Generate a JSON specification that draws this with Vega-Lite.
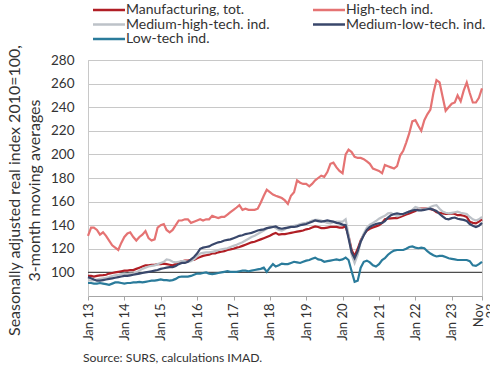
{
"$schema": "https://vega.github.io/schema/vega-lite/v6.json",
"width": 394, "height": 236,
"autosize": {"type": "none"},
"padding": {"left": 88, "top": 60, "right": 8, "bottom": 71},
"config": {"font": "Lato", "view": {"stroke": "#C8C8C8", "strokeWidth": 1}},
"title": {"text": "Source: SURS, calculations IMAD.", "orient": "bottom", "anchor": "start", "frame": "group", "dx": -5, "offset": 12, "fontSize": 12.2, "fontWeight": "normal", "color": "#333333"},
"data": {"values": [
{"d":"2013-01-01","a":97,"b":131,"c":93.5,"e":96,"f":91},
{"d":"2013-02-01","a":97,"b":138,"c":93,"e":95,"f":91},
{"d":"2013-03-01","a":96.5,"b":138,"c":93.5,"e":94,"f":90.5},
{"d":"2013-04-01","a":97,"b":136,"c":94,"e":93,"f":90.5},
{"d":"2013-05-01","a":97.5,"b":132,"c":94.5,"e":93,"f":91},
{"d":"2013-06-01","a":97.7,"b":134,"c":95,"e":93.5,"f":90.5},
{"d":"2013-07-01","a":98,"b":131,"c":95.5,"e":94,"f":90},
{"d":"2013-08-01","a":99,"b":127,"c":96,"e":94.5,"f":89.5},
{"d":"2013-09-01","a":99.5,"b":123,"c":97,"e":95,"f":90.5},
{"d":"2013-10-01","a":100,"b":121,"c":97.5,"e":95.5,"f":91.5},
{"d":"2013-11-01","a":100.5,"b":119,"c":98,"e":96,"f":91.5},
{"d":"2013-12-01","a":101,"b":125,"c":98.5,"e":96.5,"f":91},
{"d":"2014-01-01","a":101.5,"b":130,"c":99,"e":97,"f":90.5},
{"d":"2014-02-01","a":101.5,"b":133,"c":98.5,"e":97,"f":91},
{"d":"2014-03-01","a":102,"b":134,"c":99,"e":97.5,"f":91},
{"d":"2014-04-01","a":102,"b":130,"c":99,"e":98,"f":91.5},
{"d":"2014-05-01","a":103,"b":127,"c":100,"e":98.5,"f":91.5},
{"d":"2014-06-01","a":104,"b":130,"c":101.5,"e":99,"f":92},
{"d":"2014-07-01","a":105,"b":132,"c":103,"e":99.5,"f":91.5},
{"d":"2014-08-01","a":106,"b":135,"c":104,"e":100,"f":92},
{"d":"2014-09-01","a":106,"b":129,"c":105,"e":100.5,"f":92.5},
{"d":"2014-10-01","a":106.5,"b":127,"c":105.5,"e":101,"f":93},
{"d":"2014-11-01","a":106.5,"b":128,"c":106,"e":101.5,"f":93},
{"d":"2014-12-01","a":107,"b":138,"c":107,"e":102,"f":93.5},
{"d":"2015-01-01","a":107,"b":140,"c":108,"e":103,"f":94},
{"d":"2015-02-01","a":107.5,"b":141,"c":109,"e":103.5,"f":93.5},
{"d":"2015-03-01","a":107,"b":136,"c":111,"e":104,"f":93.5},
{"d":"2015-04-01","a":106.5,"b":134,"c":110.5,"e":104.5,"f":93},
{"d":"2015-05-01","a":106,"b":136,"c":109,"e":104.5,"f":93.5},
{"d":"2015-06-01","a":107,"b":140,"c":108.5,"e":105.5,"f":94.5},
{"d":"2015-07-01","a":108.5,"b":144,"c":109,"e":107,"f":96},
{"d":"2015-08-01","a":109.5,"b":144,"c":109.5,"e":108,"f":96.5},
{"d":"2015-09-01","a":110,"b":145,"c":109.5,"e":108,"f":96.5},
{"d":"2015-10-01","a":110,"b":145,"c":109,"e":109,"f":96.5},
{"d":"2015-11-01","a":110.5,"b":142,"c":109.5,"e":111,"f":97},
{"d":"2015-12-01","a":110.5,"b":143,"c":111,"e":113,"f":98},
{"d":"2016-01-01","a":112,"b":144,"c":113.5,"e":116,"f":99},
{"d":"2016-02-01","a":113,"b":145,"c":116,"e":120,"f":99},
{"d":"2016-03-01","a":114,"b":144,"c":116.5,"e":121,"f":99.5},
{"d":"2016-04-01","a":114.5,"b":145,"c":117,"e":121.5,"f":100},
{"d":"2016-05-01","a":115,"b":145,"c":117,"e":122,"f":99},
{"d":"2016-06-01","a":116,"b":148,"c":117.5,"e":123.5,"f":98.5},
{"d":"2016-07-01","a":116,"b":147,"c":118,"e":124.5,"f":99},
{"d":"2016-08-01","a":117,"b":146,"c":119,"e":125.5,"f":99.5},
{"d":"2016-09-01","a":117.5,"b":147,"c":119.5,"e":126,"f":100},
{"d":"2016-10-01","a":118,"b":147,"c":120,"e":127,"f":100.5},
{"d":"2016-11-01","a":119,"b":149,"c":120.5,"e":127.5,"f":101},
{"d":"2016-12-01","a":119.5,"b":151,"c":121.5,"e":128,"f":100.5},
{"d":"2017-01-01","a":120,"b":153,"c":122.5,"e":129,"f":100.5},
{"d":"2017-02-01","a":121,"b":155,"c":123.5,"e":130,"f":100.5},
{"d":"2017-03-01","a":121.5,"b":157,"c":124.5,"e":131,"f":101},
{"d":"2017-04-01","a":122.5,"b":153,"c":125.5,"e":131.5,"f":101.5},
{"d":"2017-05-01","a":123.5,"b":154,"c":127,"e":132.5,"f":101.5},
{"d":"2017-06-01","a":124.5,"b":153,"c":128.5,"e":133,"f":101},
{"d":"2017-07-01","a":125.5,"b":153,"c":130,"e":133.5,"f":101.5},
{"d":"2017-08-01","a":126,"b":153,"c":131,"e":134.5,"f":102},
{"d":"2017-09-01","a":127,"b":154,"c":132.5,"e":135.5,"f":102.5},
{"d":"2017-10-01","a":128,"b":159,"c":134,"e":136,"f":103},
{"d":"2017-11-01","a":129,"b":165,"c":135.5,"e":136.5,"f":104},
{"d":"2017-12-01","a":130,"b":170,"c":137,"e":137.5,"f":100.5},
{"d":"2018-01-01","a":131,"b":168,"c":138.5,"e":138,"f":104},
{"d":"2018-02-01","a":132.5,"b":166,"c":139,"e":138.5,"f":107},
{"d":"2018-03-01","a":133.5,"b":165,"c":137.5,"e":139,"f":105},
{"d":"2018-04-01","a":132,"b":164,"c":136,"e":137.5,"f":106},
{"d":"2018-05-01","a":132.5,"b":163,"c":135.5,"e":137,"f":107.5},
{"d":"2018-06-01","a":132.5,"b":161,"c":136.5,"e":137.5,"f":107},
{"d":"2018-07-01","a":133,"b":158,"c":138,"e":138,"f":107},
{"d":"2018-08-01","a":133.5,"b":165,"c":138.5,"e":138.5,"f":108},
{"d":"2018-09-01","a":134,"b":168,"c":139.5,"e":138.5,"f":109},
{"d":"2018-10-01","a":134.5,"b":178,"c":140,"e":139,"f":108.5},
{"d":"2018-11-01","a":135,"b":176,"c":141,"e":140,"f":108},
{"d":"2018-12-01","a":135.5,"b":175,"c":141.5,"e":140.5,"f":109},
{"d":"2019-01-01","a":136.5,"b":175,"c":142,"e":141,"f":110},
{"d":"2019-02-01","a":137,"b":173,"c":143,"e":142,"f":110.5},
{"d":"2019-03-01","a":138,"b":175,"c":144,"e":143,"f":111.5},
{"d":"2019-04-01","a":139,"b":178,"c":144.5,"e":144,"f":112.5},
{"d":"2019-05-01","a":138.5,"b":180,"c":144.5,"e":143.5,"f":111},
{"d":"2019-06-01","a":137.5,"b":182,"c":144,"e":143,"f":110.5},
{"d":"2019-07-01","a":137.5,"b":181,"c":143,"e":143.5,"f":109},
{"d":"2019-08-01","a":138,"b":185,"c":142,"e":144,"f":109.5},
{"d":"2019-09-01","a":138.5,"b":192,"c":141.5,"e":143.5,"f":110},
{"d":"2019-10-01","a":138.5,"b":193,"c":142.5,"e":143,"f":110.5},
{"d":"2019-11-01","a":138.5,"b":189,"c":143,"e":142,"f":111},
{"d":"2019-12-01","a":138,"b":186,"c":143,"e":141.5,"f":110.5},
{"d":"2020-01-01","a":138,"b":184,"c":143,"e":140.5,"f":111},
{"d":"2020-02-01","a":139,"b":200,"c":145,"e":140,"f":112.5},
{"d":"2020-03-01","a":131,"b":204,"c":132,"e":129,"f":110.5},
{"d":"2020-04-01","a":119,"b":202,"c":115,"e":117,"f":101},
{"d":"2020-05-01","a":114,"b":198,"c":108,"e":112,"f":92},
{"d":"2020-06-01","a":120,"b":197,"c":115,"e":118,"f":93},
{"d":"2020-07-01","a":127,"b":197,"c":126,"e":126,"f":104},
{"d":"2020-08-01","a":132,"b":196,"c":133,"e":131.5,"f":109},
{"d":"2020-09-01","a":135.5,"b":194,"c":138,"e":136,"f":110},
{"d":"2020-10-01","a":137,"b":192,"c":140.5,"e":138.5,"f":108.5},
{"d":"2020-11-01","a":138,"b":188,"c":142,"e":140,"f":106},
{"d":"2020-12-01","a":139,"b":187,"c":143.5,"e":141,"f":105},
{"d":"2021-01-01","a":140,"b":186,"c":145.5,"e":141.5,"f":107},
{"d":"2021-02-01","a":142,"b":184,"c":147,"e":142,"f":110.5},
{"d":"2021-03-01","a":145,"b":191,"c":148,"e":143.5,"f":112},
{"d":"2021-04-01","a":145.5,"b":190,"c":150,"e":146.5,"f":115},
{"d":"2021-05-01","a":145.8,"b":189,"c":150.5,"e":148.5,"f":117},
{"d":"2021-06-01","a":146,"b":188,"c":149,"e":149.5,"f":118.5},
{"d":"2021-07-01","a":146,"b":190,"c":147.5,"e":150,"f":119},
{"d":"2021-08-01","a":147,"b":199,"c":148.5,"e":149.5,"f":119},
{"d":"2021-09-01","a":148,"b":203,"c":149.5,"e":149.5,"f":119},
{"d":"2021-10-01","a":149,"b":210,"c":150.5,"e":150.5,"f":120},
{"d":"2021-11-01","a":150,"b":218,"c":151.5,"e":151.5,"f":121.5},
{"d":"2021-12-01","a":151,"b":228,"c":153,"e":152.5,"f":122},
{"d":"2022-01-01","a":152,"b":229,"c":155.5,"e":153,"f":121},
{"d":"2022-02-01","a":154,"b":224,"c":154.5,"e":152.5,"f":120.5},
{"d":"2022-03-01","a":154,"b":220,"c":153.5,"e":152.5,"f":121},
{"d":"2022-04-01","a":154,"b":229,"c":153.5,"e":153,"f":120.5},
{"d":"2022-05-01","a":154,"b":234,"c":154,"e":153.5,"f":118},
{"d":"2022-06-01","a":153.5,"b":238,"c":155.5,"e":154,"f":116},
{"d":"2022-07-01","a":153,"b":252,"c":156.5,"e":153,"f":114.5},
{"d":"2022-08-01","a":151,"b":263,"c":157,"e":152,"f":113.5},
{"d":"2022-09-01","a":150.5,"b":261,"c":154,"e":149.5,"f":114},
{"d":"2022-10-01","a":150,"b":249,"c":151.5,"e":147.5,"f":114},
{"d":"2022-11-01","a":149.5,"b":237,"c":150.5,"e":145.5,"f":113},
{"d":"2022-12-01","a":149.5,"b":240,"c":150,"e":145,"f":112},
{"d":"2023-01-01","a":150,"b":243,"c":150.5,"e":146,"f":111.5},
{"d":"2023-02-01","a":149.5,"b":244,"c":151,"e":146.5,"f":111},
{"d":"2023-03-01","a":148.5,"b":250,"c":151.5,"e":145.5,"f":110.5},
{"d":"2023-04-01","a":148.5,"b":245,"c":150.5,"e":145,"f":110.5},
{"d":"2023-05-01","a":148,"b":254,"c":150,"e":144.5,"f":110.5},
{"d":"2023-06-01","a":147,"b":261,"c":149.5,"e":143.5,"f":110.5},
{"d":"2023-07-01","a":143,"b":252,"c":147,"e":141,"f":109.5},
{"d":"2023-08-01","a":142,"b":244,"c":145,"e":139.5,"f":106},
{"d":"2023-09-01","a":141.5,"b":244,"c":144,"e":138.5,"f":105.5},
{"d":"2023-10-01","a":143,"b":248,"c":145,"e":139.5,"f":107},
{"d":"2023-11-01","a":145,"b":256,"c":147,"e":142,"f":109}
]},
"layer": [
{
"data": {"values": [{"ref": 100}]},
"mark": {"type": "rule", "color": "#4D4D4D", "strokeWidth": 1.3},
"encoding": {"y": {"datum": 100, "type": "quantitative"}}
},
{
"transform": [{"fold": ["a", "b", "c", "e", "f"], "as": ["s", "v"]}],
"mark": {"type": "line", "strokeWidth": 2.2},
"encoding": {
"x": {"field": "d", "type": "temporal",
"scale": {"type": "utc", "domain": [{"year": 2013, "month": 1, "date": 1, "utc": true}, {"year": 2023, "month": 11, "date": 1, "utc": true}]},
"axis": {"title": null, "grid": false, "tickCount": 30,
"values": [
{"year": 2013, "month": 1, "date": 1, "utc": true},{"year": 2014, "month": 1, "date": 1, "utc": true},{"year": 2015, "month": 1, "date": 1, "utc": true},{"year": 2016, "month": 1, "date": 1, "utc": true},{"year": 2017, "month": 1, "date": 1, "utc": true},{"year": 2018, "month": 1, "date": 1, "utc": true},{"year": 2019, "month": 1, "date": 1, "utc": true},{"year": 2020, "month": 1, "date": 1, "utc": true},{"year": 2021, "month": 1, "date": 1, "utc": true},{"year": 2022, "month": 1, "date": 1, "utc": true},{"year": 2023, "month": 1, "date": 1, "utc": true},{"year": 2023, "month": 11, "date": 1, "utc": true}],
"labelExpr": "utcmonth(datum.value) == 10 ? ['Nov', '23'] : 'Jan ' + utcFormat(datum.value, '%y')",
"labelBaseline": {"condition": {"test": "utcmonth(datum.value) == 10", "value": "alphabetic"}, "value": "middle"},
"labelAngle": -90, "labelFontSize": 13, "labelLineHeight": 13, "labelColor": "#333333", "labelPadding": 3, "labelOverlap": false, "labelBound": false, "labelFlush": false,
"tickColor": "#A6A6A6", "tickSize": 4, "domainColor": "#A6A6A6"}},
"y": {"field": "v", "type": "quantitative",
"scale": {"domain": [80, 280], "nice": false, "zero": false},
"axis": {"values": [100, 120, 140, 160, 180, 200, 220, 240, 260, 280], "tickCount": 30,
"title": ["Seasonally adjusted real  index 2010=100,", "             3-month moving averages"],
"titleFontSize": 16, "titleFontWeight": "normal", "titleColor": "#333333", "titleLineHeight": 20,
"titleAngle": -90, "titleBaseline": "top", "titleAlign": "center", "titleX": -82, "titleY": 130,
"grid": true, "gridColor": "#C8C8C8", "domainColor": "#C8C8C8", "ticks": false, "labelPadding": 14, "labelFontSize": 13.5, "labelColor": "#333333", "labelOverlap": false}},
"color": {"field": "s", "type": "nominal",
"scale": {"domain": ["a", "c", "f", "b", "e"], "range": ["#B01E25", "#BDC2C8", "#2A7B9B", "#E57373", "#39476B"]},
"legend": {"orient": "none", "legendX": 14, "legendY": -57, "columns": 2, "title": null,
"symbolType": "M-3.2,0H3.2", "symbolSize": 100, "symbolStrokeWidth": 2.5, "labelFontSize": 14, "labelColor": "#333333",
"columnPadding": 38, "rowPadding": 0.5, "labelOffset": 10,
"labelExpr": "datum.value == 'a' ? 'Manufacturing, tot.' : datum.value == 'b' ? 'High-tech ind.' : datum.value == 'c' ? 'Medium-high-tech. ind.' : datum.value == 'e' ? 'Medium-low-tech. ind.' : 'Low-tech ind.'"}}
}
}
]
}
